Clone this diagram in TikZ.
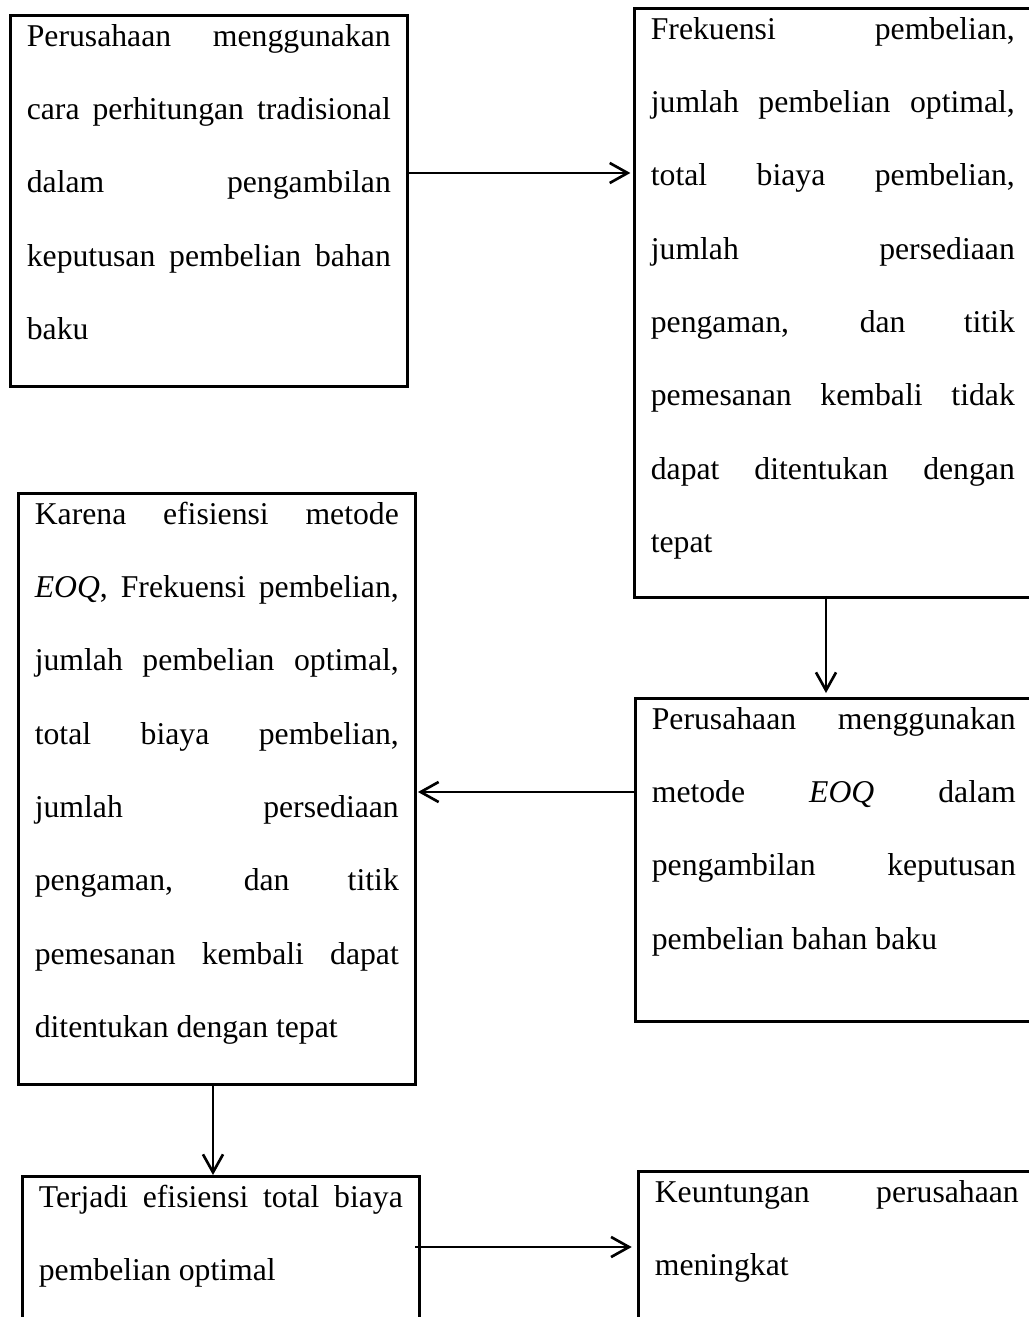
\documentclass[tikz,border=0pt]{standalone}
\usepackage{fontspec}
\setmainfont{Liberation Serif}
\usetikzlibrary{arrows.meta}

\newdimen\pxu
\pxu=0.3785pt
% justified text, fixed lines, top aligned
\newcommand{\boxtext}[2]{\parbox[t][#1\pxu][t]{364\pxu}{\fontsize{12pt}{27.75pt}\selectfont
  \hyphenpenalty=10000 \tolerance=10000 \hbadness=10000
  \rule{0pt}{31\pxu}#2}}

\begin{document}
\begin{tikzpicture}[x=0.3785pt, y=-0.3785pt,
    kotak/.style={draw=black, line width=1pt, anchor=north west, inner xsep=16.5\pxu, inner ysep=0pt},
    panah/.style={black, line width=1pt, -{Straight Barb[length=6.8pt,width=7.6pt]}}]
    \useasboundingbox (0,0) rectangle (1028,1317);

    \node[kotak] (trad) at (9,14) {\boxtext{371}{Perusahaan menggunakan\linebreak
        cara perhitungan tradisional\linebreak dalam pengambilan\linebreak
        keputusan pembelian bahan\linebreak baku}};
    \node[kotak] (hasil) at (633,7) {\boxtext{589}{Frekuensi pembelian,\linebreak
        jumlah pembelian optimal,\linebreak total biaya pembelian,\linebreak
        jumlah persediaan\linebreak pengaman, dan titik\linebreak
        pemesanan kembali tidak\linebreak dapat ditentukan dengan\linebreak tepat}};
    \node[kotak] (eoq) at (17,492) {\boxtext{591}{Karena efisiensi metode\linebreak
        \textit{EOQ}, Frekuensi pembelian,\linebreak jumlah pembelian optimal,\linebreak
        total biaya pembelian,\linebreak jumlah persediaan\linebreak
        pengaman, dan titik\linebreak pemesanan kembali dapat\linebreak
        ditentukan dengan tepat}};
    \node[kotak] (metode) at (634,697) {\boxtext{323}{Perusahaan menggunakan\linebreak
        metode \textit{EOQ} dalam\linebreak pengambilan keputusan\linebreak
        pembelian bahan baku}};
    \node[kotak] (efisien) at (21,1175) {\boxtext{250}{Terjadi efisiensi total biaya\linebreak
        pembelian optimal}};
    \node[kotak] (untung) at (637,1170) {\boxtext{250}{Keuntungan perusahaan\linebreak
        meningkat}};

    \draw[panah, shorten >=1pt] (trad.east |- 0,173) -- (hasil.west |- 0,173);
    \draw[panah, shorten <=-1pt, shorten >=1.5pt] (hasil.south -| 826,0) -- (metode.north -| 826,0);
    \draw[panah, shorten >=0.5pt] (metode.west |- 0,792) -- (eoq.east |- 0,792);
    \draw[panah] (eoq.south -| 213,0) -- (efisien.north -| 213,0);
    \draw[panah, shorten <=-2pt, shorten >=2pt] (efisien.east |- 0,1247) -- (untung.west |- 0,1247);
\end{tikzpicture}
\end{document}
